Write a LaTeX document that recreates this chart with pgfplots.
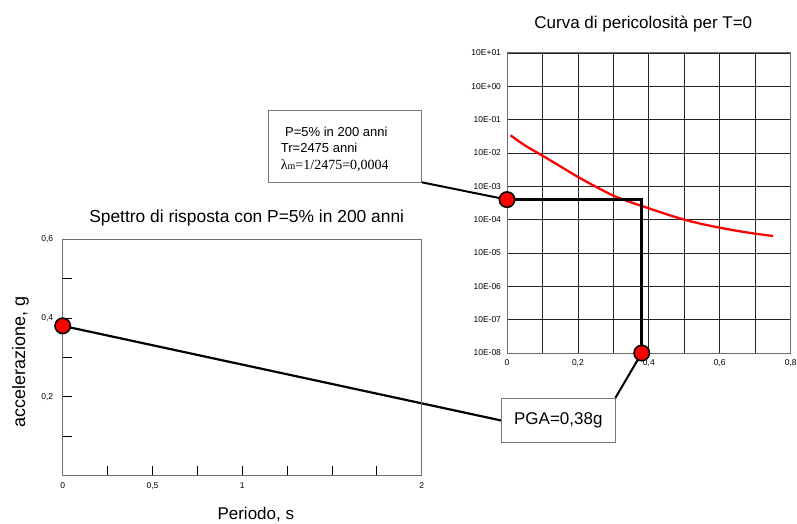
\documentclass[border=0pt]{standalone}
\usepackage{pgfplots}
\pgfplotsset{compat=1.18}
\usepackage{fontspec}
\setmainfont{Liberation Sans}
\newfontfamily\serifm{Liberation Serif}

\definecolor{framegray}{RGB}{110,110,110}
\definecolor{boxgray}{RGB}{120,120,120}

\pgfdeclarelayer{connectors}
\pgfsetlayers{connectors,main}

\begin{document}
\begin{tikzpicture}[x=1pt,y=1pt]
\useasboundingbox (0,0) rectangle (797,524);

% --- titles and axis labels ---
\node[anchor=base, inner sep=0, font=\fontsize{17}{20}\selectfont] at (643.3,495.7) {Curva di pericolosità per T=0};
\node[anchor=base, inner sep=0, font=\fontsize{17.4}{20}\selectfont] at (246.7,301.3) {Spettro di risposta con P=5\% in 200 anni};
\node[anchor=base, inner sep=0, font=\fontsize{17}{20}\selectfont] at (255.8,4) {Periodo, s};
\node[anchor=base, rotate=90, inner sep=0, font=\fontsize{18}{20}\selectfont] at (25,162) {accelerazione, g};

% --- annotation boxes ---
\draw[boxgray, fill=white, line width=0.9pt] (268.3,341.7) rectangle (421.7,414);
\coordinate (boxA) at (421.7,341.7);
\node[anchor=base west, inner sep=0, font=\fontsize{13}{15}\selectfont] at (285,387.3) {P=5\% in 200 anni};
\node[anchor=base west, inner sep=0, font=\fontsize{13}{15}\selectfont] at (280.7,371.3) {Tr=2475 anni};
\node[anchor=base west, inner sep=0, font=\serifm\fontsize{14}{16}\selectfont] at (280.7,354.7) {λ{\fontsize{10}{12}\selectfont m}=1/2475=0,0004};

\node[draw=boxgray, line width=0.9pt, fill=white, minimum width=113.3pt, minimum height=44.4pt, inner sep=0,
      font=\fontsize{17}{20}\selectfont] (pga) at (558.3,103.5) {PGA=0,38g};

% --- response spectrum ---
\begin{axis}[
  at={(62.7pt,48.7pt)}, anchor=south west, scale only axis,
  width=359pt, height=236pt,
  xmin=0, xmax=2, ymin=0, ymax=0.6,
  xtick={0,0.25,0.5,0.75,1,1.25,1.5,1.75,2},
  xticklabels={0,,{0,5},,1,,,,2},
  ytick={0.1,0.2,0.3,0.4,0.5,0.6},
  yticklabels={,{0,2},,{0,4},,{0,6}},
  tick align=inside, tick pos=left,
  major tick length=9pt,
  tick style={black, line width=0.8pt},
  axis line style={framegray, line width=1pt},
  tick label style={font=\fontsize{8.5}{10}\selectfont},
  xticklabel style={yshift=-3.5pt},
  yticklabel style={xshift=-6pt},
  clip=false,
]
\coordinate (mL) at (axis cs:0,0.38);
\addplot[only marks, mark=*, mark size=7.7pt, mark options={fill=red, draw=black, line width=1.6pt}]
  coordinates {(0,0.38)};
\end{axis}

% --- hazard curve ---
\begin{axis}[
  at={(507pt,171pt)}, anchor=south west, scale only axis,
  width=283.7pt, height=300pt,
  ymode=log,
  xmin=0, xmax=0.8, ymin=1e-8, ymax=1e1,
  xtick={0,0.2,0.4,0.6,0.8},
  minor xtick={0.1,0.3,0.5,0.7},
  xticklabels={0,{0,2},{0,4},{0,6},{0,8}},
  ytick={1e-8,1e-7,1e-6,1e-5,1e-4,1e-3,1e-2,1e-1,1e0,1e1},
  yticklabels={10E-08,10E-07,10E-06,10E-05,10E-04,10E-03,10E-02,10E-01,10E+00,10E+01},
  xmajorgrids, xminorgrids, ymajorgrids,
  major grid style={black!85, line width=0.8pt},
  minor grid style={black!85, line width=0.8pt},
  major tick length=0pt, minor tick length=0pt,
  axis line style={framegray, line width=1pt},
  tick label style={font=\fontsize{8.5}{10}\selectfont},
  xticklabel style={yshift=-3.5pt},
  yticklabel style={xshift=-2.5pt},
  clip=false,
]
\addplot[red, line width=2.3pt, smooth] coordinates {
  (0.01,0.0339) (0.05,0.017) (0.1,0.00832) (0.15,0.0040) (0.2,0.00191)
  (0.25,0.00098) (0.3,0.000525) (0.35,0.00033) (0.4,0.000219) (0.45,0.000145)
  (0.5,0.0001) (0.55,0.000074) (0.6,0.0000575) (0.65,0.000046) (0.7,0.000038)
  (0.75,0.0000324)
};
\coordinate (mH) at (axis cs:0,0.0004);
\coordinate (mP) at (axis cs:0.38,1e-8);
\addplot[black, line width=2.6pt] coordinates {(0,0.0004) (0.38,0.0004) (0.38,1e-8)};
\addplot[only marks, mark=*, mark size=7.7pt, mark options={fill=red, draw=black, line width=1.6pt}]
  coordinates {(0,0.0004) (0.38,1e-8)};
\end{axis}

% --- leader lines, kept beneath the markers ---
\begin{pgfonlayer}{connectors}
\draw[black, line width=2.2pt] (mL) -- (pga.west);
\draw[black, line width=2pt] (boxA) -- (mH);
\draw[black, line width=2pt] (pga.north east) -- (mP);
\end{pgfonlayer}
\end{tikzpicture}
\end{document}
